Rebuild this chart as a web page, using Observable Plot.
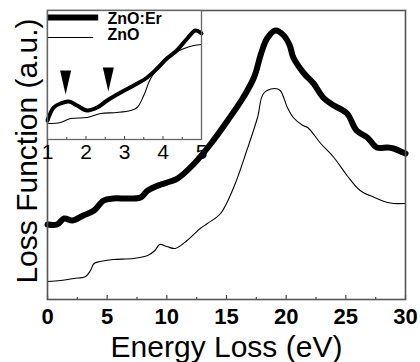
<!DOCTYPE html>
<html>
<head>
<meta charset="utf-8">
<script src="https://cdn.jsdelivr.net/npm/d3@7"></script>
<script src="https://cdn.jsdelivr.net/npm/@observablehq/plot@0.6"></script>
<style>
  html, body { margin: 0; padding: 0; background: white; }
  #wrap { position: relative; width: 420px; height: 362px; overflow: hidden; }
  #wrap svg { position: absolute; left: 0; top: 0; }
</style>
</head>
<body>
<div id="wrap"></div>
<script>
// ---- Main panel data (Energy Loss in eV, loss function in a.u.) ----
const mainErE = [0, 0.8, 1.4, 2.1, 3.0, 3.9, 4.7, 5.5, 6.7, 7.8, 8.4, 9.5, 10.3, 10.9, 12.3, 13.7, 15.1, 16.4, 17.3, 17.9, 18.4, 19.1, 19.8, 20.3, 20.6, 21.5, 22.3, 23.1, 24.0, 25.1, 25.9, 26.8, 27.6, 28.5, 29.0, 29.8, 30];
const mainErV = [75, 75, 81, 79, 84, 89, 99, 101, 101, 102, 109, 115, 118, 121, 136, 156, 179, 202, 222, 246, 261, 269, 264, 254, 242, 226, 216, 202, 194, 186, 169, 162, 152, 152, 151, 147, 146];

const mainZnE = [0, 1.1, 2.2, 3.2, 3.6, 3.9, 4.4, 5.5, 7.2, 8.4, 9.0, 9.4, 10.0, 10.7, 11.7, 12.8, 13.4, 14.5, 15.6, 16.7, 17.6, 18.1, 19.0, 19.5, 20.1, 20.6, 21.4, 21.8, 22.9, 24.0, 25.1, 26.2, 27.4, 28.5, 29.0, 30];
const mainZnV = [18, 19, 21, 23, 29, 36, 38, 40, 41, 44, 49, 55, 53, 51, 59, 71, 76, 86, 112, 149, 182, 206, 211, 209, 192, 182, 174, 172, 156, 142, 124, 109, 102, 97, 96, 96];

// ---- Inset data (1–5 eV) ----
const insetErE = [1.0, 1.16, 1.34, 1.55, 1.77, 2.03, 2.29, 2.55, 2.9, 3.24, 3.59, 3.85, 4.1, 4.36, 4.63, 4.84, 4.97, 5.0];
const insetErV = [19, 32, 36, 38, 34, 29, 32, 39, 47, 54, 62, 71, 81, 89, 101, 109, 107, 106];
const insetZnE = [1.0, 1.34, 1.6, 2.03, 2.38, 2.8, 3.16, 3.33, 3.5, 3.68, 3.94, 4.28, 4.55, 4.8, 5.0];
const insetZnV = [16, 17, 21, 22, 26, 27, 29, 32, 44, 61, 74, 86, 91, 94, 95];

// arrows marking features
const arrowE = [1.47, 2.58];
const arrowV = [57, 60];

// tick labels
const mainTicks = [0, 5, 10, 15, 20, 25, 30];
const mainMinor = [2.5, 7.5, 12.5, 17.5, 22.5, 27.5];
const insetTicks = [1, 2, 3, 4, 5];
const insetMinor = [1.5, 2.5, 3.5, 4.5];

// legend
const legendLabels = ["ZnO:Er", "ZnO"];
const legendWidths = [6, 1];

const zip = (xs, ys) => xs.map((x, i) => ({x, y: ys[i]}));
const FONT = "'Liberation Sans', Arial, Helvetica, sans-serif";

const main = Plot.plot({
  width: 420, height: 362,
  marginLeft: 47, marginRight: 15, marginTop: 10, marginBottom: 63,
  x: {domain: [0, 30], axis: null},
  y: {domain: [0, 289], axis: null},
  style: {fontFamily: FONT, background: "white", color: "black"},
  marks: [
    Plot.line(zip(mainZnE, mainZnV), {x: "x", y: "y", stroke: "black", strokeWidth: 1.1, curve: "catmull-rom"}),
    Plot.line(zip(mainErE, mainErV), {x: "x", y: "y", stroke: "black", strokeWidth: 6, curve: "catmull-rom", strokeLinejoin: "round"}),
    Plot.ruleX(mainTicks, {x: d => d, y1: 0, y2: 4, stroke: "#444", strokeWidth: 1.2}),
    Plot.ruleX(mainMinor, {x: d => d, y1: 0, y2: 2, stroke: "#444", strokeWidth: 1.2}),
    Plot.frame({stroke: "#555", strokeWidth: 1.6}),
    Plot.axisX(mainTicks, {tickSize: 0, tickPadding: 9, fontSize: 22, fontWeight: "bold", label: null, tickFormat: d => String(d)}),
    Plot.text(["Energy Loss (eV)"], {frameAnchor: "bottom", dy: 57, lineAnchor: "bottom", fontSize: 30, fill: "black"}),
    Plot.text(["Loss Function (a.u.)"], {frameAnchor: "left", textAnchor: "middle", dx: -11, dy: -4, rotate: -90, lineAnchor: "bottom", fontSize: 30, fill: "black"})
  ]
});

const arrowSymbol = {
  draw(ctx, size) {
    ctx.moveTo(-5.5, -12);
    ctx.lineTo(5.5, -12);
    ctx.lineTo(0, 12);
    ctx.closePath();
  }
};

const legendData = legendLabels.map((label, i) => ({label, w: legendWidths[i], y: i === 0 ? 122 : 102, ty: i === 0 ? 121 : 105}));

const inset = Plot.plot({
  width: 215, height: 170,
  marginLeft: 47, marginRight: 14, marginTop: 10, marginBottom: 31,
  x: {domain: [1, 5], axis: null},
  y: {domain: [0, 129], axis: null},
  style: {fontFamily: FONT, background: "transparent", color: "black", overflow: "visible"},
  marks: [
    Plot.frame({fill: "white"}),
    Plot.line(zip(insetZnE, insetZnV), {x: "x", y: "y", stroke: "black", strokeWidth: 1.1, curve: "catmull-rom"}),
    Plot.line(zip(insetErE, insetErV), {x: "x", y: "y", stroke: "black", strokeWidth: 4, curve: "catmull-rom", strokeLinejoin: "round"}),
    Plot.dot(zip(arrowE, arrowV), {x: "x", y: "y", symbol: arrowSymbol, fill: "black", stroke: null, r: 6}),
    Plot.ruleY(legendData, {y: "y", x1: 1, x2: d => d.w > 2 ? 2.33 : 2.2, strokeWidth: "w", stroke: "black"}),
    Plot.text(legendData, {x: 2.56, y: "ty", text: "label", textAnchor: "start", fontSize: 16, fontWeight: "bold", fill: "black"}),
    Plot.ruleX(insetTicks, {x: d => d, y1: 0, y2: 3, stroke: "#444", strokeWidth: 1}),
    Plot.ruleX(insetMinor, {x: d => d, y1: 0, y2: 2, stroke: "#444", strokeWidth: 1}),
    Plot.frame({stroke: "#666", strokeWidth: 1.3}),
    Plot.axisX(insetTicks, {tickSize: 0, tickPadding: 5, fontSize: 21, label: null, tickFormat: d => String(d)})
  ]
});

const wrap = document.getElementById("wrap");
wrap.appendChild(main);
wrap.appendChild(inset);
</script>
</body>
</html>
